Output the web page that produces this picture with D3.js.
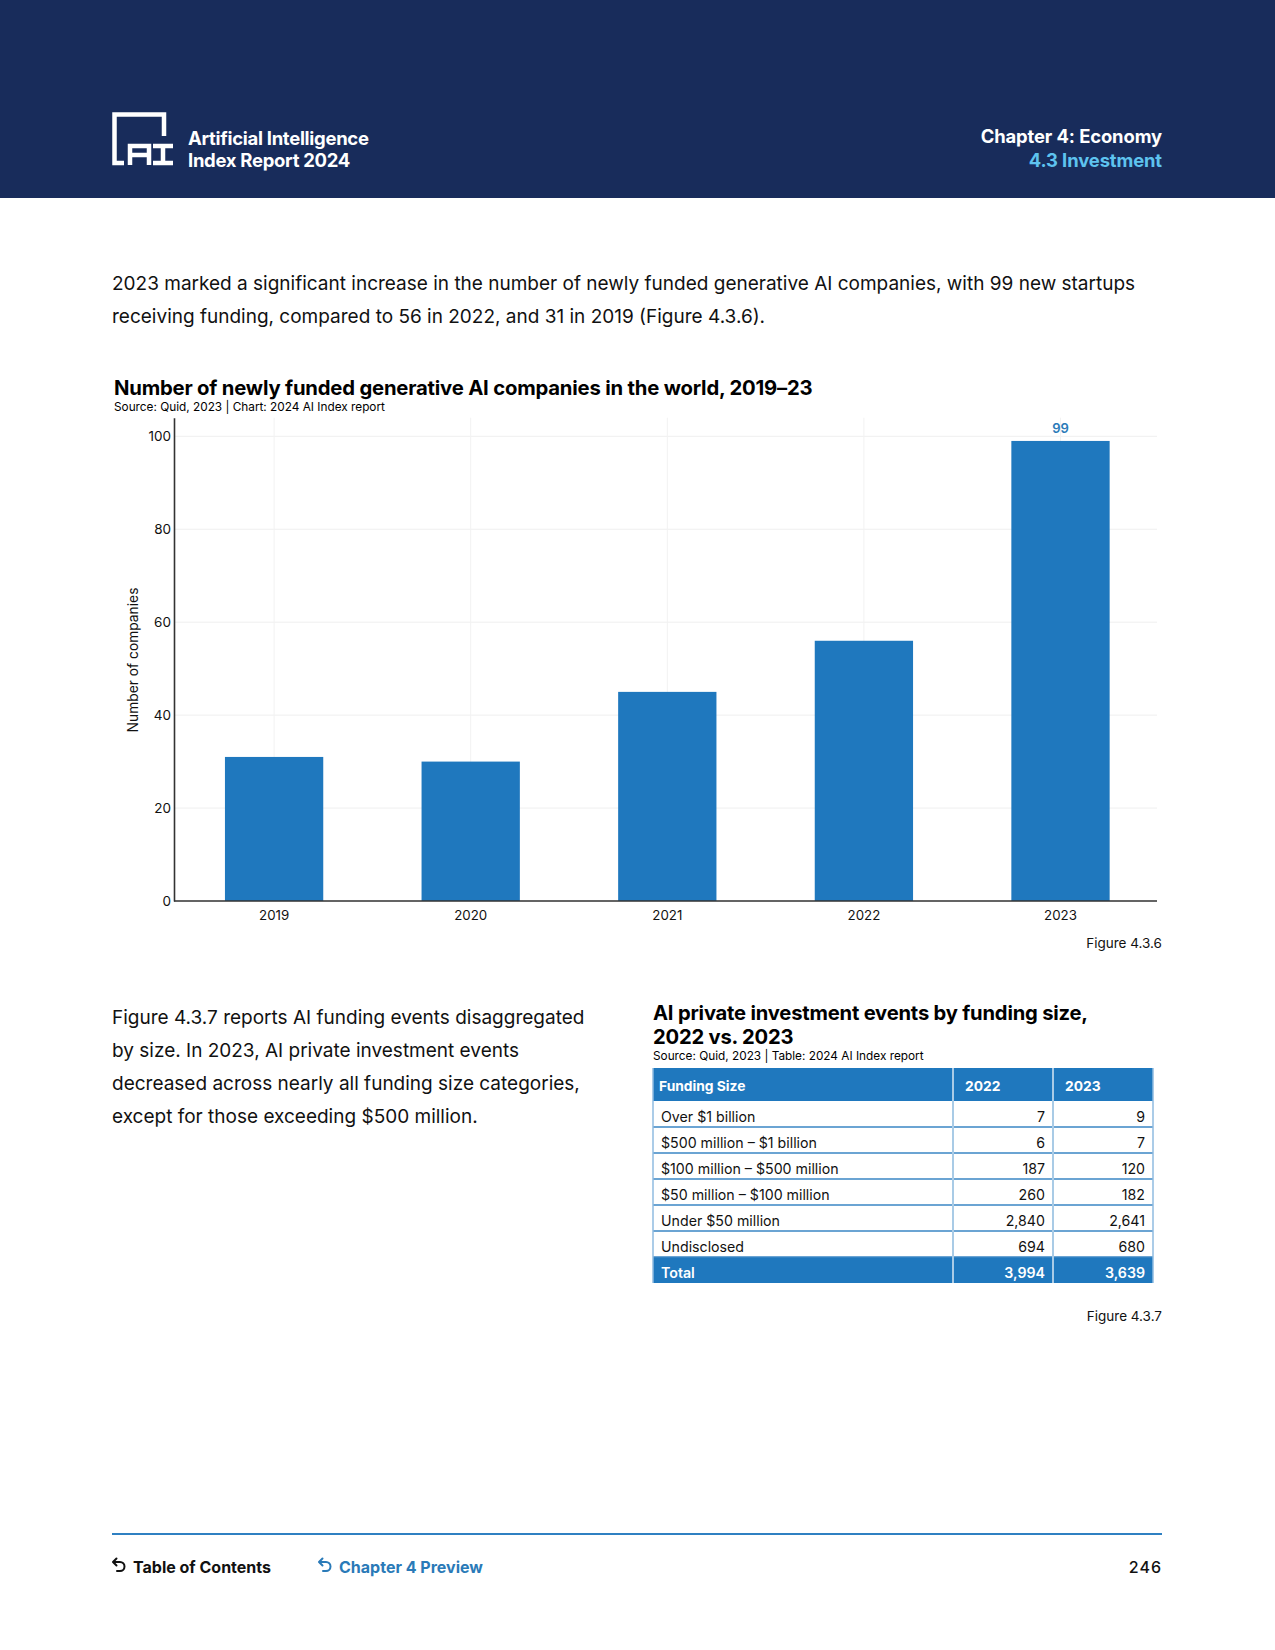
<!DOCTYPE html>
<html><head><meta charset="utf-8">
<script src="https://cdn.jsdelivr.net/npm/d3@7"></script>
<style>
html,body{margin:0;padding:0;background:#fff;}
svg{display:block;}
text{font-family:Inter,"Noto Sans",sans-serif;}
</style></head>
<body>
<script>
// ---- data ----
const years = ["2019","2020","2021","2022","2023"];
const companies = [31, 30, 45, 56, 99];
const yTicks = [0, 20, 40, 60, 80, 100];

const fundingSizes = ["Over $1 billion","$500 million – $1 billion","$100 million – $500 million","$50 million – $100 million","Under $50 million","Undisclosed"];
const events2022 = ["7","6","187","260","2,840","694"];
const events2023 = ["9","7","120","182","2,641","680"];
const totalRow = ["Total","3,994","3,639"];
const tableHeader = ["Funding Size","2022","2023"];

const W = 1275, H = 1650;
const navy = "#182c5b", blue = "#1f78be", lightBlue = "#5ec3ef";

const svg = d3.select("body").append("svg").attr("width", W).attr("height", H);

// ---- header ----
svg.append("rect").attr("x",0).attr("y",0).attr("width",W).attr("height",198).attr("fill",navy);
const logo = svg.append("g").attr("fill","none").attr("stroke","#fff").attr("stroke-width",4.5);
logo.append("path").attr("d","M164,136 V114.5 H114.5 V163 H124");
logo.append("path").attr("d","M130,165 V146 H149 V165 M130,155 H149");
logo.append("path").attr("d","M153,146 H173 M163,146 V163 M153,163 H173");

svg.append("text").attr("x",188).attr("y",145).attr("fill","#fff").attr("font-size",18.5).attr("font-weight",700).attr("letter-spacing",-0.3).text("Artificial Intelligence");
svg.append("text").attr("x",188).attr("y",167).attr("fill","#fff").attr("font-size",18.5).attr("font-weight",700).attr("letter-spacing",-0.3).text("Index Report 2024");
svg.append("text").attr("x",1162).attr("y",143).attr("text-anchor","end").attr("fill","#fff").attr("font-size",18.4).attr("font-weight",700).attr("letter-spacing",-0.1).text("Chapter 4: Economy");
svg.append("text").attr("x",1162).attr("y",167).attr("text-anchor","end").attr("fill",lightBlue).attr("font-size",18.4).attr("font-weight",700).attr("letter-spacing",-0.1).text("4.3 Investment");

// ---- intro paragraph ----
const para1 = ["2023 marked a significant increase in the number of newly funded generative AI companies, with 99 new startups",
"receiving funding, compared to 56 in 2022, and 31 in 2019 (Figure 4.3.6)."];
para1.forEach((t,i)=>svg.append("text").attr("x",112).attr("y",290+i*32.5).attr("font-size",19).attr("fill","#111").text(t));

// ---- chart ----
svg.append("text").attr("x",114).attr("y",395).attr("font-size",20.3).attr("font-weight",700).attr("fill","#000").attr("letter-spacing",-0.2).text("Number of newly funded generative AI companies in the world, 2019–23");
svg.append("text").attr("x",114).attr("y",411).attr("font-size",11.8).attr("fill","#000").text("Source: Quid, 2023 | Chart: 2024 AI Index report");

const m = {left:174, right:1157, top:417.7, bottom:901};
const x = d3.scaleBand().domain(years).range([m.left+1.8, m.right+1.8]).paddingInner(0.5).paddingOuter(0.25);
const y = d3.scaleLinear().domain([0,104]).range([m.bottom, m.top]);

const g = svg.append("g");
g.selectAll(".hg").data(yTicks).enter().append("line")
  .attr("x1",m.left).attr("x2",m.right).attr("y1",d=>y(d)).attr("y2",d=>y(d))
  .attr("stroke","#efefef").attr("stroke-width",1);
g.selectAll(".vg").data(years).enter().append("line")
  .attr("x1",d=>x(d)+x.bandwidth()/2).attr("x2",d=>x(d)+x.bandwidth()/2).attr("y1",m.top).attr("y2",m.bottom)
  .attr("stroke","#f2f2f2").attr("stroke-width",1);

g.selectAll(".bar").data(years).enter().append("rect")
  .attr("x",d=>x(d)).attr("width",x.bandwidth())
  .attr("y",(d,i)=>y(companies[i])).attr("height",(d,i)=>y(0)-y(companies[i]))
  .attr("fill",blue);

g.append("text").attr("x",x("2023")+x.bandwidth()/2).attr("y",y(99)-8).attr("text-anchor","middle")
  .attr("font-size",13).attr("font-weight",600).attr("fill","#2a7ab8").text(companies[4]);

const yAxis = d3.axisLeft(y).tickValues(yTicks).tickSize(0).tickPadding(3);
const ya = svg.append("g").attr("transform",`translate(${m.left},0)`).call(yAxis);
ya.select(".domain").attr("stroke","#333").attr("stroke-width",1.6);
ya.selectAll("text").attr("font-size",13.5).attr("fill","#111").attr("font-family","Inter,sans-serif");

const xAxis = d3.axisBottom(x).tickSize(0).tickPadding(10);
const xa = svg.append("g").attr("transform",`translate(0,${m.bottom})`).call(xAxis);
xa.select(".domain").attr("stroke","#333").attr("stroke-width",1.6).attr("d",`M${m.left},0H${m.right}`);
xa.selectAll("text").attr("font-size",13.3).attr("fill","#111").attr("font-family","Inter,sans-serif");

svg.append("text").attr("transform",`translate(138,660) rotate(-90)`).attr("text-anchor","middle")
  .attr("font-size",13.8).attr("fill","#111").text("Number of companies");

svg.append("text").attr("x",1162).attr("y",948).attr("text-anchor","end").attr("font-size",13.5).attr("fill","#111").text("Figure 4.3.6");

// ---- second paragraph ----
const para2 = ["Figure 4.3.7 reports AI funding events disaggregated","by size. In 2023, AI private investment events","decreased across nearly all funding size categories,","except for those exceeding $500 million."];
para2.forEach((t,i)=>svg.append("text").attr("x",112).attr("y",1024+i*33).attr("font-size",19).attr("fill","#111").text(t));

// ---- table ----
svg.append("text").attr("x",653).attr("y",1020).attr("font-size",20.2).attr("font-weight",700).attr("fill","#000").attr("letter-spacing",-0.2).text("AI private investment events by funding size,");
svg.append("text").attr("x",653).attr("y",1043.5).attr("font-size",20.2).attr("font-weight",700).attr("fill","#000").attr("letter-spacing",-0.2).text("2022 vs. 2023");
svg.append("text").attr("x",653).attr("y",1059.5).attr("font-size",11.8).attr("fill","#000").text("Source: Quid, 2023 | Table: 2024 AI Index report");

const colX = [653, 953, 1053, 1153];
const tTop = 1068, hH = 33, rH = 26;
const rows = fundingSizes.map((f,i)=>[f, events2022[i], events2023[i]]);
const tg = svg.append("g");
tg.append("rect").attr("x",colX[0]).attr("y",tTop).attr("width",colX[3]-colX[0]).attr("height",hH).attr("fill",blue);
tableHeader.forEach((h,j)=>tg.append("text").attr("x",colX[j]+ (j==0?6:12)).attr("y",tTop+hH/2+6.5)
  .attr("font-size",13.8).attr("font-weight",700).attr("fill","#fff").text(h));
const rowY = i => tTop + hH + i*rH;
const bOff = 8.3;
rows.forEach((r,i)=>{
  tg.append("text").attr("x",colX[0]+8).attr("y",rowY(i)+rH/2+bOff).attr("font-size",14.2).attr("fill","#111").text(r[0]);
  tg.append("text").attr("x",colX[2]-8).attr("y",rowY(i)+rH/2+bOff).attr("text-anchor","end").attr("font-size",14.2).attr("fill","#111").text(r[1]);
  tg.append("text").attr("x",colX[3]-8).attr("y",rowY(i)+rH/2+bOff).attr("text-anchor","end").attr("font-size",14.2).attr("fill","#111").text(r[2]);
});
const ty = rowY(rows.length);
tg.append("rect").attr("x",colX[0]).attr("y",ty).attr("width",colX[3]-colX[0]).attr("height",rH).attr("fill",blue);
tg.append("text").attr("x",colX[0]+8).attr("y",ty+rH/2+bOff).attr("font-size",14.2).attr("font-weight",600).attr("fill","#fff").text(totalRow[0]);
tg.append("text").attr("x",colX[2]-8).attr("y",ty+rH/2+bOff).attr("text-anchor","end").attr("font-size",14.2).attr("font-weight",600).attr("fill","#fff").text(totalRow[1]);
tg.append("text").attr("x",colX[3]-8).attr("y",ty+rH/2+bOff).attr("text-anchor","end").attr("font-size",14.2).attr("font-weight",600).attr("fill","#fff").text(totalRow[2]);
for(let i=1;i<=rows.length;i++){
  tg.append("line").attr("x1",colX[0]).attr("x2",colX[3]).attr("y1",rowY(i)).attr("y2",rowY(i)).attr("stroke","#3a86c4").attr("stroke-width",1.3);
}
[1,2].forEach(j=>{
  tg.append("line").attr("x1",colX[j]).attr("x2",colX[j]).attr("y1",tTop).attr("y2",ty+rH).attr("stroke","#a9cbe6").attr("stroke-width",2);
});
[0,3].forEach(j=>{
  tg.append("line").attr("x1",colX[j]).attr("x2",colX[j]).attr("y1",tTop).attr("y2",ty+rH).attr("stroke","#8fbbe0").attr("stroke-width",1.5);
});

svg.append("text").attr("x",1162).attr("y",1321).attr("text-anchor","end").attr("font-size",13.5).attr("fill","#111").text("Figure 4.3.7");

// ---- footer ----
svg.append("line").attr("x1",112).attr("x2",1162).attr("y1",1534).attr("y2",1534).attr("stroke","#2f80c2").attr("stroke-width",2.2);
function backIcon(xx, yy, col){
  const ic = svg.append("g").attr("fill","none").attr("stroke",col).attr("stroke-width",2).attr("stroke-linecap","round").attr("stroke-linejoin","round");
  ic.append("path").attr("d",`M${xx+2},${yy-5} H${xx+8} A4.5,4.5 0 0 1 ${xx+8},${yy+4} H${xx+5}`);
  ic.append("path").attr("d",`M${xx+4.5},${yy-8.5} L${xx+1},${yy-5} L${xx+4.5},${yy-1.5}`);
}
backIcon(112,1567,"#111");
svg.append("text").attr("x",133).attr("y",1573).attr("font-size",16).attr("font-weight",700).attr("fill","#111").text("Table of Contents");
backIcon(318,1567,"#2a7ab8");
svg.append("text").attr("x",339).attr("y",1573).attr("font-size",16).attr("font-weight",700).attr("fill","#2a7ab8").text("Chapter 4 Preview");
svg.append("text").attr("x",1162).attr("y",1573).attr("text-anchor","end").attr("font-size",16).attr("font-weight",500).attr("fill","#111").attr("letter-spacing",1).text("246");
</script>
</body></html>
